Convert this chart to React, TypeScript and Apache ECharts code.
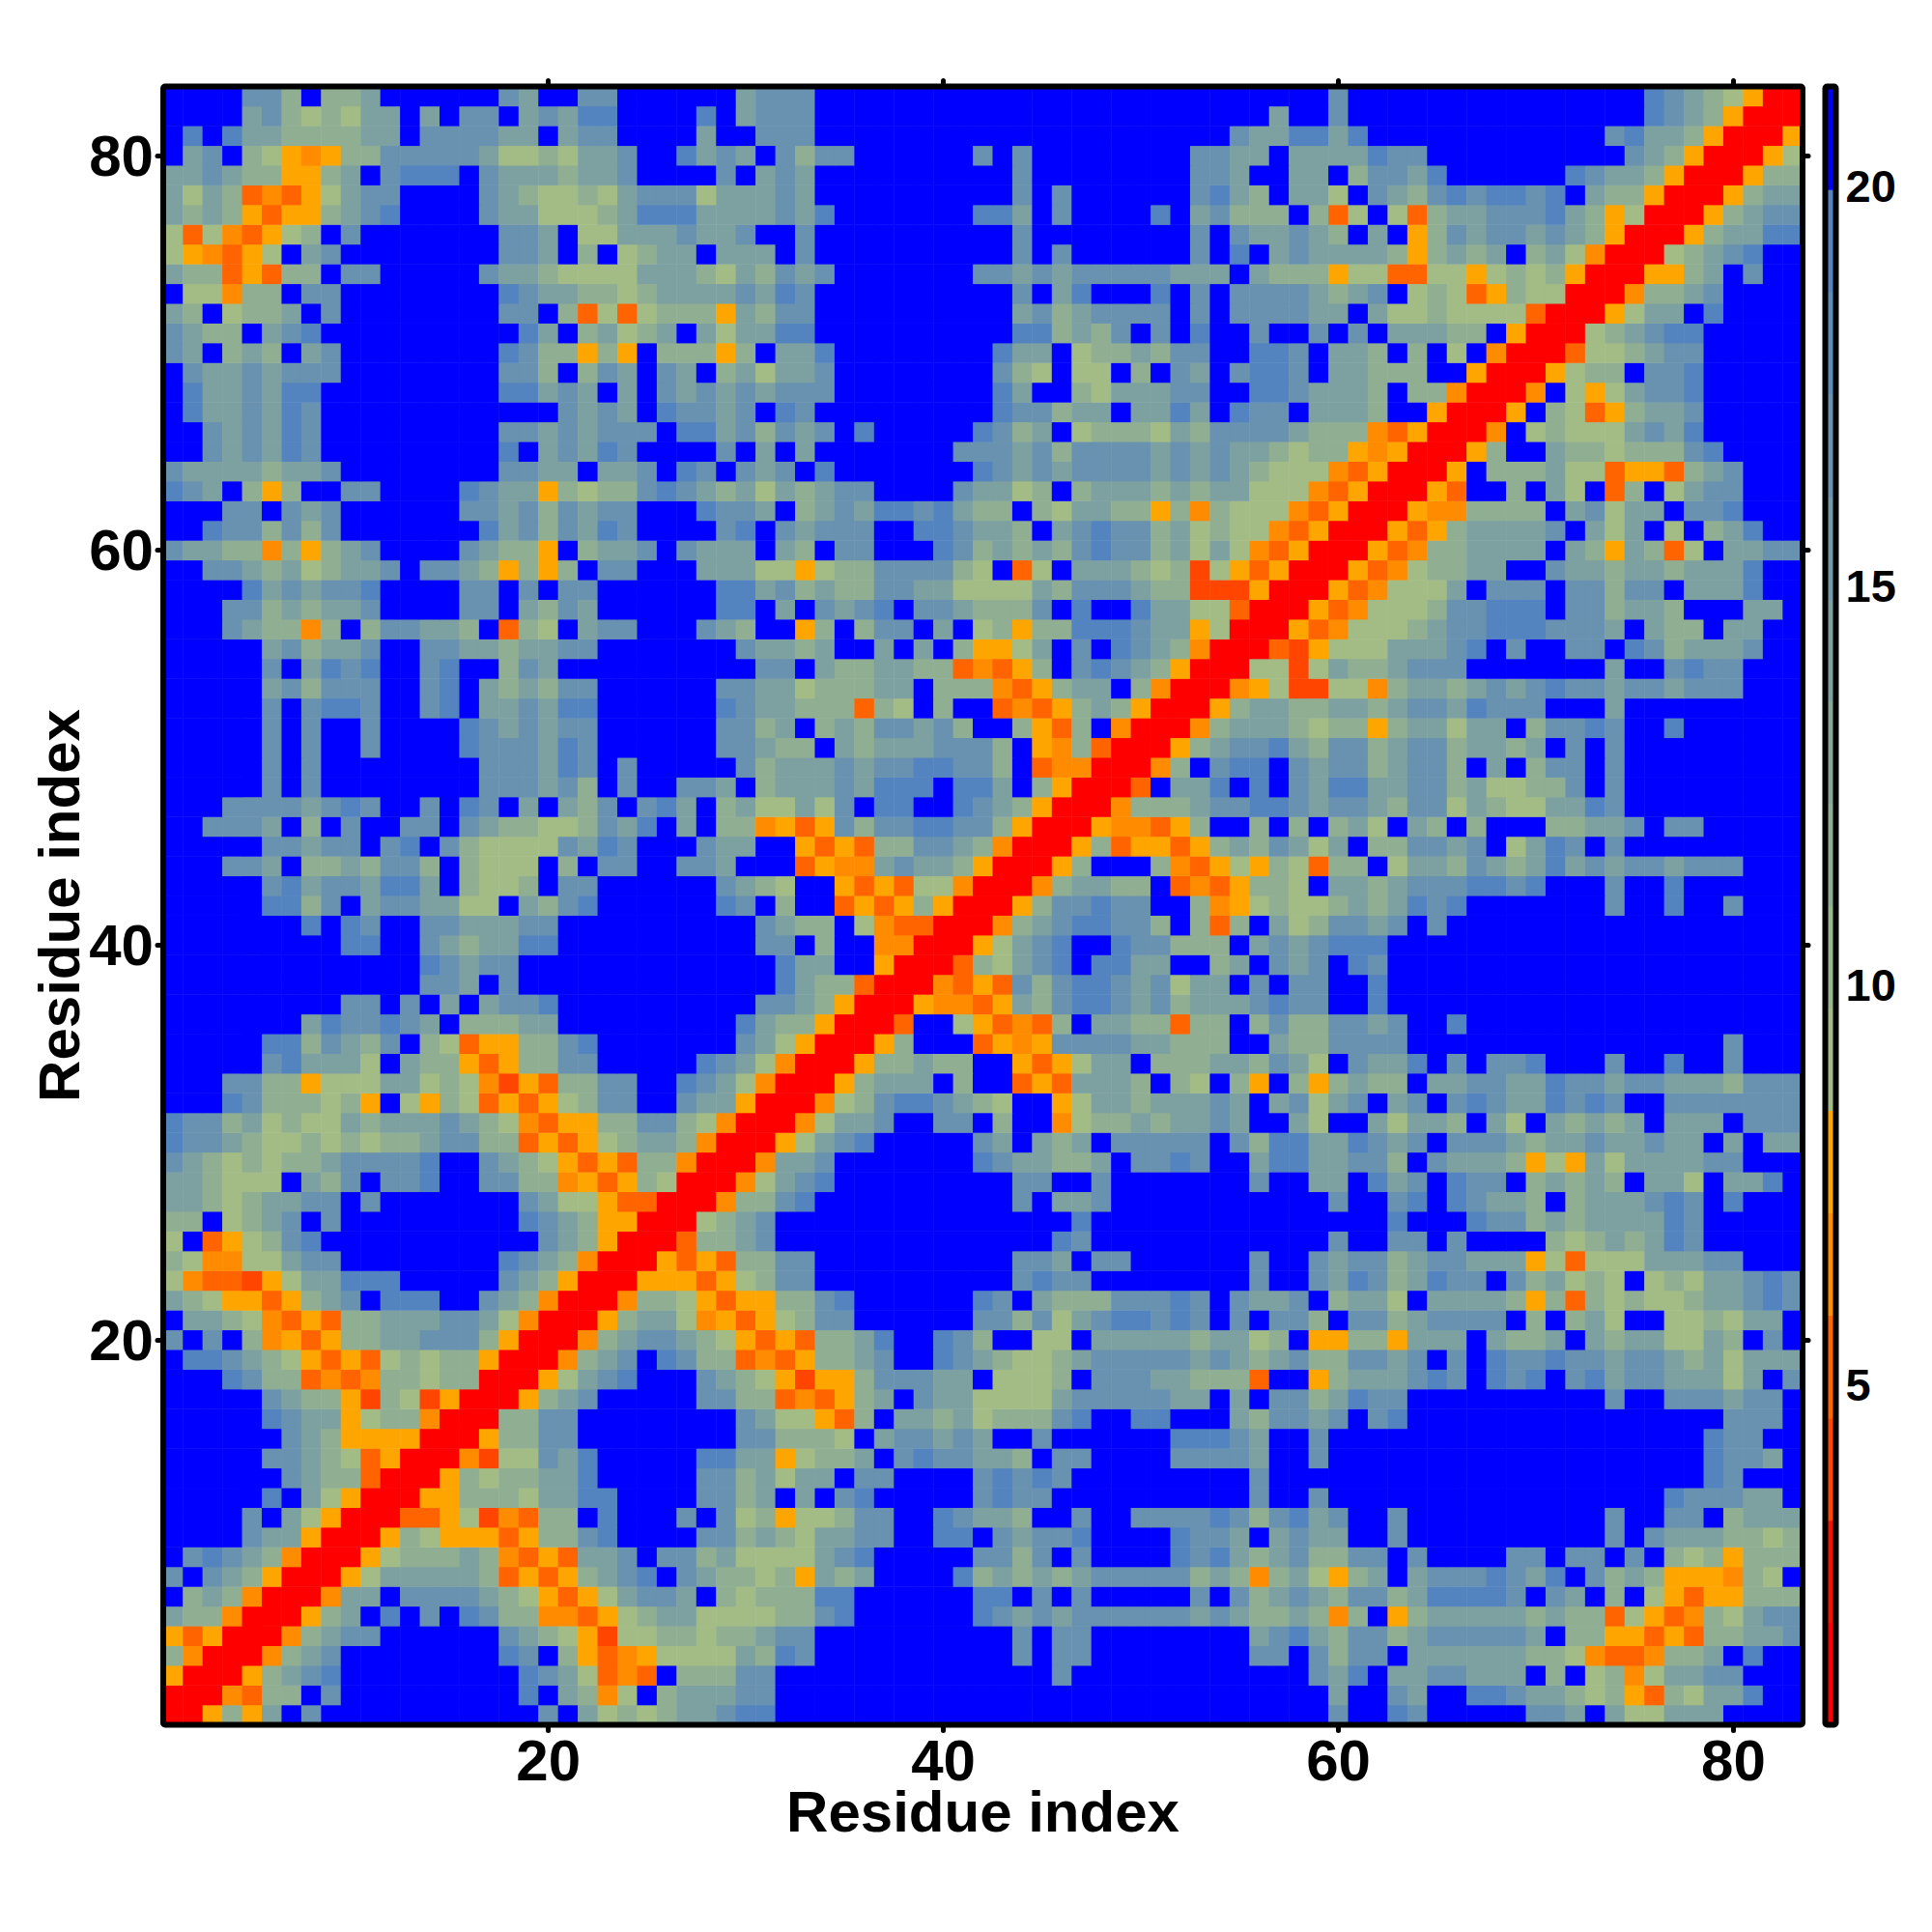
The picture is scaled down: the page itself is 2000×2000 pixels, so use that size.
import React, { useEffect, useRef } from "react";
import * as echarts from "echarts";

// Upper-left triangle of the symmetric map (row = y, chars = x = 1..y).
// R red, e/c/d/o warm bands, g/h/m/t/s sage to steel, B blue. "12B" = twelve B.
const rowsHigh: string[] = [
  "BBBBtthBhhm6BtmBBtt5B" + "Bmttt22B" + "BBBBt15BstmhgoRR",
  "BBBBmthghgmmBmBttBmtmss4Bs" + "Bmttt22B" + "BmBBt15BstmhoRRR",
  "BsBsmmhhhhmmBttttmmBmtt4Bm" + "BBttt21Bt" + "mmssms12BtsmmhoRRRo",
  "BmtBhgodohhtttttmgghgmmtBBsm" + "tmBthttBBBBBBtBtBBBBBBBBttm" + "mBmmmmstt10BtmhoRRRoh",
  "mmtmhhoohmBtsssBtmmmhmmt4B" + "tBmtm10Bt8Bttm" + "BBmmBhttms6BstmmhoRRRohh",
  "mgmhcdcogmttBBBBtmhgghgmtttg" + "mmmtm10BtBt6Btsm" + "hBmmgBtmhtstsstsBmhhoRRR",
  "mhmhocoohmtsBBBBtmmggghmsssm" + "mmmtms7BssmBt4BsBmth" + "hhBhcgBgchmmtttsmhogRR",
  "gcgdcoghBt7BttmBggmmmtm" + "mtBBt10Bt8BtBt" + "mmtmhBmBohtmttmtmhoRR",
  "godcogBmt8BttmBhBghmmB" + "mmmBt10BtBt6BtBs" + "BmtmmmmhohmhmBhmgdRR",
  "mhhcochhBtt5Btmmhggggmmmh" + "gmhtmt7BttmtmtttttmmmB" + "mhhhoggccggoghghoRR",
  "BggdhhBtt8Bstmmhhghmmm" + "mtmst10BtBmsBBBsBtBt" + "tttmhmtBghgcohggRR",
  "mhBghhmBt8BttBhcgcghhh" + "omhtt10BmthmttttBtBt" + "tttmmBmgghggggcRR",
  "tmhhBmts10BsmBhmghmBm" + "gmmss10BsshmhtBtBsBB" + "tBBtBtBmmmhhBoRR",
  "tmBhmhBmt8BsthhohoBhhh" + "ohBmms8BsmmBghhmhttBB" + "sstBmmhBhBgBdRR",
  "Btmmtmttt8BtthBhtmBtmB" + "hmgmmt8BthgBggBhBtmBt" + "sstBmmhhhBBoRR",
  "Bsmmtmss9BssmtmBmBtmt" + "mtmttt8BsmBBhgmmmttBB" + "sstmmmhBhhdRR",
  "Bsmmtmst12BtmtmBstt" + "mtBst9BstthmmBmmsmBs" + "ttBmmmhBBoRR",
  "BBtmtmst9BttmtmtttBss" + "mthtmtBs5BsthmBghhhgmhtt" + "ttmhhhdcoRR",
  "BBtmtmst9BsBmtmstBBBB" + "tBmBm7Btttmthttttmtmtm" + "mhghhodoRR",
  "tmmmmhmmt8BttmmBmmtBst" + "BtmtBs7Bstmtmttttmtmtm" + "hgggdcoRR",
  "stmBhohBBtt4Bstmmohghhtstm" + "hmgmhmttBBBBtmmghBhmmmhmhmm" + "gggdcoRR",
  "BBBttBtmt6BttmthtmttBBBs" + "ttmBhmtmsstsmhhBhgmmhhohdhg" + "ggdcoRR",
  "BBstththt7BsmthtmstBBBB" + "tsBtmtttBBsstmmhBmtstthmghg" + "gdcoRR",
  "tmmhhdhohmt4BtmhhoBhmmtBtm" + "mmBmhBttBBBsthmhmhtstthmgmg" + "dcoRR",
  "BBttmhmghmmtBttmhohohBttBBBm" + "mmggoghhtttthgBcgBmmmhghego" + "coRR",
  "BBBBsmtmtts4BttBtBtt6B" + "ssmthmhhttmmggggmhtttmhheee" + "oRR",
  "BBBtthmhmmt4BttBmhtm6B" + "ssBmBtmtsBttmhhhtBsBBsmmggc" + "RR",
  "BBBtmhhdhBhttmmhBchgBmttBBBt" + "mhBBohBhttBmBghohhssstmmogR" + "R",
];
const rowsMid: string[] = [
  "5BmthmmtBBttmmhmmtt6B" + "BtmmhmBBmBmBhoogmBtBstmhdRR",
  "5BtBmstsBBtsBBhtm8B" + "BBttBmhhmmhhcdcohBtstmhoRR",
  "5BmthtttBBtsBmhmhtt6B" + "ttmmghhhmmBhhhdcohmmBhdRR",
  "5BtBtsstBBtsBmmtmss6B" + "stmmhhhchgBhBBcdcohmhoRR",
  "5BtBtBBt4Bstmtmtt6B" + "tthmBhmhttmthBBhochBdRR",
  "5BtBtBBt4Bstttmst6B" + "ttmhhBmhmmmttthBodhcRR",
  "5BtBt8BtttmstBt4B" + "BthmmmtmttsstthBcddRR",
  "5BtBt8BtttmthBtBBtt" + "mBhmmmtmsssBssmBhoRR",
  "BBBttttmtstBBtBstBmBmhtBtsmB" + "hmggmgtBssBBstmhoRR",
  "BBtttmBhBtBBttBtmhhgghtmsBmB" + "hhdocothttsstthoRR",
  "5BttmttBtsBthggggtmstBBBt" + "mmBBocochhttmhdRR",
  "BBBttmBhhmhtthBhgggBhBttBBtt" + "mBBBcoddmtmmhoRR",
  "5BtsmttmssmBhgghBtt6B" + "tmhgBBococggdRR",
  "5BsshtBmttmmggBmhts6B" + "stBhBBcocohoRR",
  "7BsBstBBttmmmtt8B" + "BBtmhhBgdccRR",
  "9BssBBtmhmmss8B" + "BBttBhBBddRR",
  "13Bstmtt10B" + "BBBsmmBBoRR",
  "13BttmBt10B" + "BBBsmhhcRR",
  "9BttBtBmBmtts8B" + "BBttmhoRR",
  "7BmsttstmBhhhmm8B" + "BsmhhoRR",
  "5BsshtmhtBhgcoohhts6B" + "BtmgoRR",
  "5BtsmmmgBmhhocohhtt5Bs" + "tmgdRR",
  "BBBtthhogggmmghgdeochhttBBst" + "mgdRR",
  "BBBsthhhghoBgohgcocoghttBBtm" + "moRR",
  "stthmghggmhmmmtmhgdcoohhtthg" + "dRR",
  "sttmhgghghghhmtthhcocoghmmhd" + "RR",
  "tmhghghhmttttsBBtmhgocochhdR" + "R",
  "mmhgggBmhtBttsBBtthhdocohgRR",
];
const rowsLow: string[] = [
  "mmhghmmttBt7BtmggoccRR",
  "hhBghmtBt9BstmhooRR",
  "gBcoghts11BtmhoRR",
  "hgddggmtt8BstmhdRR",
  "gdcceogmmsss5BtmhoRR",
  "mhgoocohmtBsssBBtmhdRR",
  "BmmhgdcochhmmmttmgdRR",
  "tBtBhdocohhmmttthoRR",
  "BsstmhgococghghhoRR",
  "BBBsthhcdcdhhghhRR",
  "5BtmhhoehgeoRR",
  "5BstmmoghhdRR",
  "6BtmhooooRR",
  "5BttmhgcoRR",
  "6BtmhhcRR",
  "5BsBmgoRR",
  "4BtBmgoRR",
  "4BtmmoRR",
  "BtstmhdRR",
  "tBtmhoRR",
  "BhmhdRR",
  "mhhdRR",
  "ocoRR",
  "hdRR",
  "oRR",
  "RR",
  "R",
];

const residueCount = 83;
const tickLabels = [20, 40, 60, 80];
const colorbarTicks = [5, 10, 15, 20];
const zBreaks = [0.74, 2.02, 3.3, 4.58, 5.87, 7.15, 8.43, 9.71, 10.99, 12.27, 13.55, 14.83, 16.11, 17.4, 18.68, 19.96, 21.25];
const bandColors = [
  "#ff0000", "#f01400", "#ff4500", "#ff6400", "#ff8c00", "#ffa500",
  "#a3bc86", "#9ab68c", "#90ae92", "#87a799", "#7da1a1", "#739aa8", "#6892af", "#5e8bb7", "#5484c0",
  "#0000ff",
];
const letterBand: Record<string, number> = { R: 0, e: 2, c: 3, d: 4, o: 5, g: 6, h: 8, m: 10, t: 12, s: 14, B: 15 };

const decode = (r: string) => r.replace(/(\d+)B/g, (_, n) => "B".repeat(Number(n)));

function buildCells(): number[][] {
  const rows = [...rowsHigh, ...rowsMid, ...rowsLow].map(decode);
  const at = (x: number, y: number) => {
    const ch = rows[residueCount - y][x - 1] ?? "B";
    const k = letterBand[ch] ?? 15;
    return (zBreaks[k] + zBreaks[k + 1]) / 2;
  };
  const out: number[][] = [];
  for (let y = 1; y <= residueCount; y++) {
    for (let x = 1; x <= residueCount; x++) {
      out.push([x - 1, y - 1, x <= y ? at(x, y) : at(y, x)]);
    }
  }
  return out;
}

const FONT = "'Liberation Sans', Helvetica, Arial, sans-serif";
const LEFT = 169, TOP = 89.5, W = 1697, H = 1696;

export default function App() {
  const ref = useRef<HTMLDivElement>(null);
  useEffect(() => {
    const chart = echarts.init(ref.current!, undefined, { renderer: "svg" });
    const cats = Array.from({ length: residueCount }, (_, i) => String(i + 1));
    const isMajor = (index: number) => tickLabels.includes(index + 1);
    const tick = { show: true, length: 6, alignWithLabel: true, interval: isMajor, lineStyle: { color: "#000", width: 5, cap: "round" } };
    const label = { show: true, interval: isMajor, color: "#000", fontFamily: FONT, fontWeight: "bold", fontSize: 60 };
    const nameStyle = { color: "#000", fontFamily: FONT, fontWeight: "bold", fontSize: 60 };
    const bands = zBreaks.slice(0, -1).map((lo, i) => [lo, zBreaks[i + 1]]);

    chart.setOption({
      animation: false,
      backgroundColor: "#fff",
      grid: [
        { left: LEFT, top: TOP, width: W, height: H, outerBoundsMode: "none" },
        { left: 1889.5, top: TOP, width: 11, height: H, outerBoundsMode: "none" },
      ],
      xAxis: [
        { type: "category", gridIndex: 0, position: "bottom", data: cats, axisLine: { show: false }, axisTick: tick,
          axisLabel: { ...label, margin: 7 }, splitLine: { show: false },
          name: "Residue index", nameLocation: "middle", nameGap: 60, nameMoveOverlap: false, nameTextStyle: nameStyle },
        { type: "category", gridIndex: 0, position: "top", data: cats, axisLine: { show: false }, axisTick: tick, axisLabel: { show: false } },
        { type: "value", gridIndex: 1, min: 0, max: 1, show: false },
      ],
      yAxis: [
        { type: "category", gridIndex: 0, position: "left", data: cats, axisLine: { show: false }, axisTick: tick,
          axisLabel: { ...label, margin: 10 }, splitLine: { show: false },
          name: "Residue index", nameLocation: "middle", nameGap: 78, nameMoveOverlap: false, nameRotate: 90, nameTextStyle: nameStyle },
        { type: "category", gridIndex: 0, position: "right", data: cats, axisLine: { show: false }, axisTick: tick, axisLabel: { show: false } },
        { type: "value", gridIndex: 1, position: "right", min: 0.74, max: 21.25, axisLine: { show: false }, splitLine: { show: false },
          axisTick: { show: true, length: 6, customValues: colorbarTicks, lineStyle: { color: "#000", width: 5, cap: "round" } },
          axisLabel: { show: true, margin: 10, customValues: colorbarTicks, color: "#000", fontFamily: FONT, fontWeight: "bold", fontSize: 47 } },
      ],
      visualMap: {
        type: "piecewise", show: false, seriesIndex: 0, dimension: 2,
        pieces: bands.map(([lo, hi], i) => ({ gte: lo, lt: hi, color: bandColors[i] })),
      },
      series: [
        { type: "heatmap", xAxisIndex: 0, yAxisIndex: 0, data: buildCells(), progressive: 0, itemStyle: { borderWidth: 0 }, emphasis: { disabled: true } },
        { type: "custom", xAxisIndex: 2, yAxisIndex: 2, data: bands, encode: { y: [0, 1] }, clip: false,
          renderItem: (params: any, api: any) => {
            const a = api.coord([0, api.value(0)]);
            const b = api.coord([1, api.value(1)]);
            return { type: "rect", shape: { x: a[0], y: b[1], width: b[0] - a[0], height: a[1] - b[1] + 0.5 }, style: { fill: bandColors[params.dataIndex] } };
          } },
      ],
      graphic: [
        { type: "rect", z: 100, shape: { x: LEFT, y: TOP, width: W, height: H, r: 2 }, style: { fill: "none", stroke: "#000", lineWidth: 6 } },
        { type: "rect", z: 100, shape: { x: 1889.5, y: TOP, width: 11, height: H, r: 2 }, style: { fill: "none", stroke: "#000", lineWidth: 6 } },
      ],
    });
    return () => chart.dispose();
  }, []);
  return <div ref={ref} style={{ position: "absolute", left: 0, top: 0, width: 2000, height: 2000 }} />;
}
